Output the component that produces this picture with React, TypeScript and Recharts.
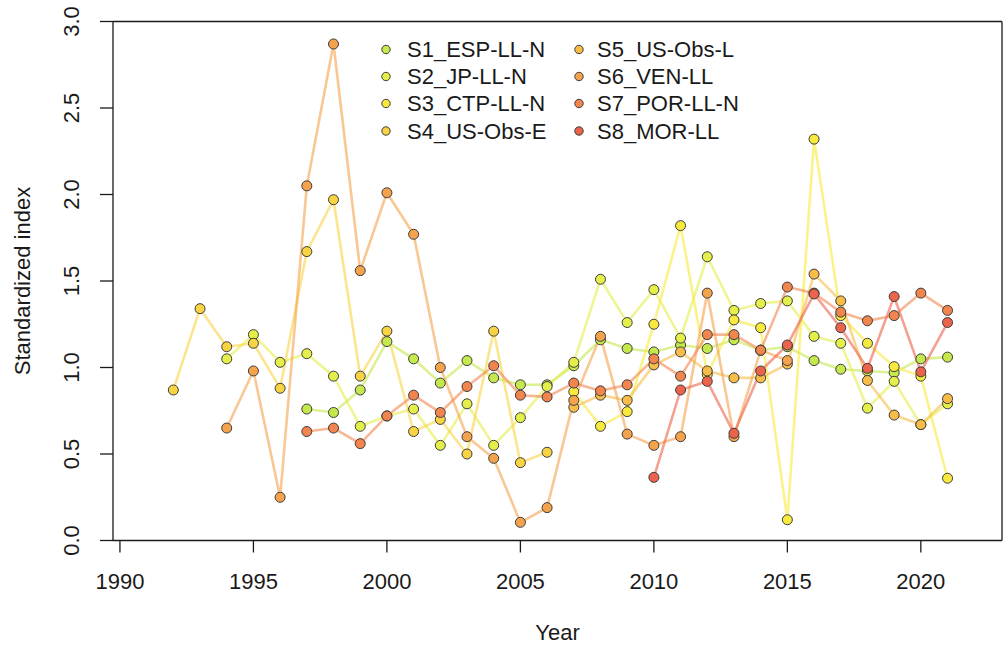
import React from 'react';
import { LineChart, Line, XAxis, YAxis, ReferenceLine, Legend } from 'recharts';

// Years covered by at least one index
const years = [
  1992, 1993, 1994, 1995, 1996, 1997, 1998, 1999, 2000, 2001,
  2002, 2003, 2004, 2005, 2006, 2007, 2008, 2009, 2010, 2011,
  2012, 2013, 2014, 2015, 2016, 2017, 2018, 2019, 2020, 2021,
];

const seriesNames = [
  'S1_ESP-LL-N', 'S2_JP-LL-N', 'S3_CTP-LL-N', 'S4_US-Obs-E',
  'S5_US-Obs-L', 'S6_VEN-LL', 'S7_POR-LL-N', 'S8_MOR-LL',
];
const seriesColors = [
  '#c5e84c', '#e4ef4a', '#f8ea3c', '#f8d444',
  '#f7bd48', '#f5a24c', '#f2854e', '#ec634c',
];
const seriesFirstYear = [1997, 1994, 2007, 1992, 2007, 1994, 1997, 2010];

// Standardized index values, one per year from the series' first year
const s1Values = [0.76, 0.74, 0.87, 1.15, 1.05, 0.91, 1.04, 0.94, 0.9, 0.9, 1.01, 1.16, 1.11, 1.09, 1.13, 1.11, 1.16, 1.1, 1.12, 1.04, 0.99, 0.98, 0.97, 1.05, 1.06];
const s2Values = [1.05, 1.19, 1.03, 1.08, 0.95, 0.66, 0.72, 0.76, 0.55, 0.79, 0.55, 0.71, 0.89, 1.03, 1.51, 1.26, 1.45, 1.17, 1.64, 1.33, 1.37, 1.385, 1.18, 1.14, 0.765, 0.92, 0.67, 0.79];
const s3Values = [0.86, 0.66, 0.745, 1.25, 1.82, 0.96, 1.275, 1.23, 0.12, 2.32, 1.3, 1.14, 1.005, 0.95, 0.36];
const s4Values = [0.87, 1.34, 1.12, 1.14, 0.88, 1.67, 1.97, 0.95, 1.21, 0.63, 0.7, 0.5, 1.21, 0.45, 0.51];
const s5Values = [0.77, 0.84, 0.81, 1.015, 1.09, 0.98, 0.94, 0.94, 1.02, 1.54, 1.385, 0.925, 0.725, 0.67, 0.82];
const s6Values = [0.65, 0.98, 0.25, 2.05, 2.87, 1.56, 2.01, 1.77, 1.0, 0.6, 0.475, 0.105, 0.19, 0.81, 1.18, 0.615, 0.55, 0.6, 1.43, 0.6, 1.1, 1.04];
const s7Values = [0.63, 0.65, 0.56, 0.72, 0.84, 0.74, 0.89, 1.01, 0.84, 0.83, 0.91, 0.865, 0.9, 1.05, 0.95, 1.19, 1.19, 1.1, 1.465, 1.43, 1.32, 1.27, 1.3, 1.43, 1.33];
const s8Values = [0.365, 0.87, 0.92, 0.62, 0.98, 1.13, 1.425, 1.23, 0.995, 1.41, 0.975, 1.26];
const seriesValues = [s1Values, s2Values, s3Values, s4Values, s5Values, s6Values, s7Values, s8Values];

const xTicks = [1990, 1995, 2000, 2005, 2010, 2015, 2020];
const yTicks = [0, 0.5, 1, 1.5, 2, 2.5, 3];
const xDomain: [number, number] = [1989.74, 2023.04];
const yDomain: [number, number] = [0, 3];

const rows = years.map((year) => {
  const row: Record<string, number> = { year };
  seriesValues.forEach((vals, i) => {
    const idx = year - seriesFirstYear[i];
    if (idx >= 0 && idx < vals.length) row['s' + i] = vals[idx];
  });
  return row;
});

const FONT = '"Liberation Sans", Arial, Helvetica, sans-serif';
const FONT_SIZE = 22;
const INK = '#1a1a1a';

const XTick = (props: any) => {
  const { x, y, payload } = props;
  return (
    <text x={x} y={y + 34} textAnchor="middle" fontFamily={FONT} fontSize={FONT_SIZE} fill={INK}>
      {payload.value}
    </text>
  );
};

const YTick = (props: any) => {
  const { x, y, payload } = props;
  return (
    <text
      transform={`translate(${x - 19},${y}) rotate(-90)`}
      textAnchor="middle"
      fontFamily={FONT}
      fontSize={FONT_SIZE}
      fill={INK}
    >
      {Number(payload.value).toFixed(1)}
    </text>
  );
};

const XTitle = () => (
  <text x={557.5} y={640} textAnchor="middle" fontFamily={FONT} fontSize={FONT_SIZE} fill={INK}>
    Year
  </text>
);

const YTitle = () => (
  <text
    transform="translate(29.5,281) rotate(-90)"
    textAnchor="middle"
    fontFamily={FONT}
    fontSize={FONT_SIZE}
    fill={INK}
  >
    Standardized index
  </text>
);

const legendCols = [{ marker: 386, text: 407 }, { marker: 579, text: 597 }];
const legendRows = [49.5, 76.5, 103.5, 131];

const LegendBlock = () => (
  <svg width={1004} height={160} style={{ display: 'block', overflow: 'visible' }}>
    {seriesNames.map((name, i) => {
      const col = legendCols[Math.floor(i / 4)];
      const cy = legendRows[i % 4];
      return (
        <g key={name}>
          <circle cx={col.marker} cy={cy} r={4.2} fill={seriesColors[i]} stroke="#3c3c3c" strokeWidth={1} />
          <text x={col.text} y={cy} dominantBaseline="central" fontFamily={FONT} fontSize={FONT_SIZE} fill={INK}>
            {name}
          </text>
        </g>
      );
    })}
  </svg>
);

export default function App() {
  return (
    <div style={{ position: 'absolute', left: 0, top: 0, background: '#fff' }}>
      <LineChart width={1004} height={650} data={rows} margin={{ top: 21.5, right: 2, bottom: 0, left: 0 }}>
        <XAxis
          type="number"
          dataKey="year"
          domain={xDomain}
          ticks={xTicks}
          interval={0}
          allowDataOverflow
          height={109.5}
          tickSize={12}
          axisLine={{ stroke: INK, strokeWidth: 1.3 }}
          tickLine={{ stroke: INK, strokeWidth: 1.3 }}
          tick={<XTick />}
          label={<XTitle />}
        />
        <YAxis
          type="number"
          domain={yDomain}
          ticks={yTicks}
          interval={0}
          allowDataOverflow
          width={113}
          tickSize={13}
          axisLine={{ stroke: INK, strokeWidth: 1.3 }}
          tickLine={{ stroke: INK, strokeWidth: 1.3 }}
          tick={<YTick />}
          label={<YTitle />}
        />
        <ReferenceLine y={yDomain[1]} stroke={INK} strokeWidth={1.3} />
        <ReferenceLine x={xDomain[1]} stroke={INK} strokeWidth={1.3} />
        {seriesNames.map((name, i) => (
          <Line
            key={name}
            type="linear"
            dataKey={'s' + i}
            name={name}
            stroke={seriesColors[i]}
            strokeOpacity={0.6}
            strokeWidth={2.6}
            dot={{ r: 5, fill: seriesColors[i], fillOpacity: 1, stroke: '#3c3c3c', strokeOpacity: 1, strokeWidth: 1 }}
            activeDot={false}
            isAnimationActive={false}
          />
        ))}
        <Legend
          layout="horizontal"
          verticalAlign="middle"
          align="center"
          content={<LegendBlock />}
          wrapperStyle={{ left: 0, top: 0, width: 1004, height: 160 }}
        />
      </LineChart>
    </div>
  );
}
